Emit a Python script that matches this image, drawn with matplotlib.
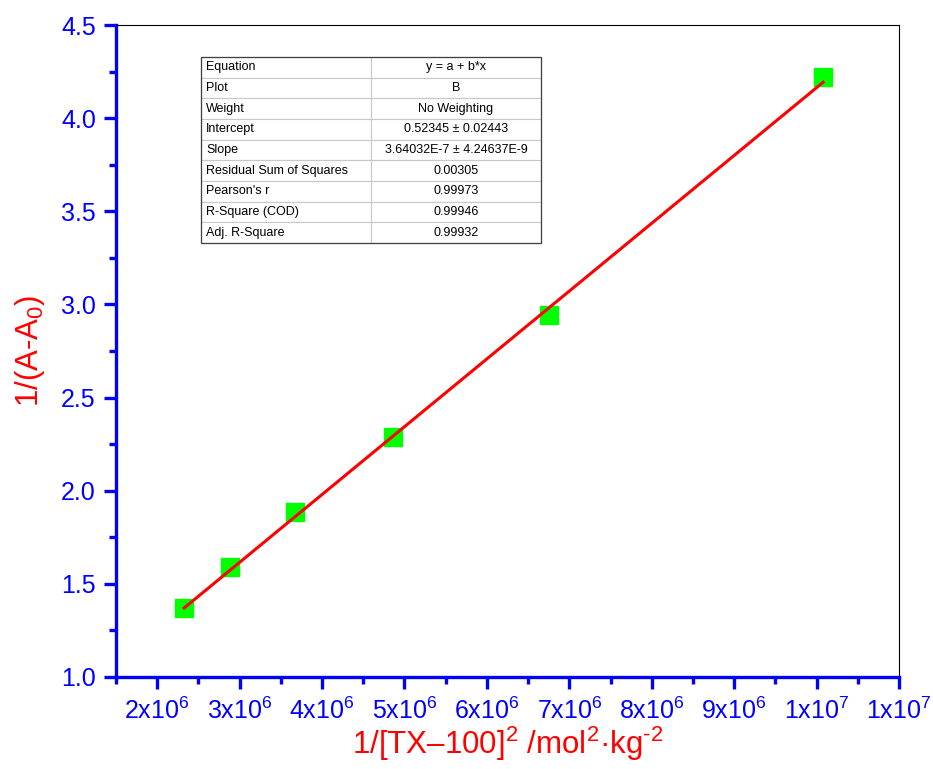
import matplotlib
matplotlib.use("Agg")
import matplotlib.pyplot as plt
import numpy as np
from matplotlib.ticker import FuncFormatter, MultipleLocator

plt.rcParams["font.family"] = ["Liberation Sans", "DejaVu Sans"]
plt.rcParams["mathtext.fontset"] = "custom"
plt.rcParams["mathtext.rm"] = "Liberation Sans"
plt.rcParams["mathtext.it"] = "Liberation Sans:italic"

# data
x_vals = [2.327e6, 2.885e6, 3.673e6, 4.86e6, 6.75e6, 10.08e6]
y_vals = [1.369, 1.592, 1.886, 2.290, 2.943, 4.219]

intercept = 0.52345
slope     = 3.64032e-7

table_rows = [
    ["Equation", "y = a + b*x"],
    ["Plot", "B"],
    ["Weight", "No Weighting"],
    ["Intercept", "0.52345 \u00b1 0.02443"],
    ["Slope", "3.64032E-7 \u00b1 4.24637E-9"],
    ["Residual Sum of Squares", "0.00305"],
    ["Pearson's r", "0.99973"],
    ["R-Square (COD)", "0.99946"],
    ["Adj. R-Square", "0.99932"],
]

blue = "#0000ff"
red  = "#ff0000"

fig = plt.figure(figsize=(9.33, 7.69), dpi=100)
ax  = fig.add_axes([116 / 933, 1 - 677 / 769, 783 / 933, 652 / 769])

xs = np.array(x_vals)
xl = np.array([xs.min(), xs.max()])
ax.plot(xl, intercept + slope * xl, color=red, lw=2.2, zorder=2)
ax.plot(x_vals, y_vals, "s", color="#00ff00", markersize=12.5, mec="#00ff00", zorder=1)

ax.set_xlim(1.5e6, 1.1e7)
ax.set_ylim(1.0, 4.5)
ax.xaxis.set_major_locator(MultipleLocator(1e6))
ax.xaxis.set_minor_locator(MultipleLocator(5e5))
ax.yaxis.set_major_locator(MultipleLocator(0.5))
ax.yaxis.set_minor_locator(MultipleLocator(0.25))


def sci_fmt(v, pos):
    if v <= 0:
        return ""
    e = int(np.floor(np.log10(v) + 1e-9))
    m = int(round(v / 10 ** e))
    return r"%dx10$^{%d}$" % (m, e)


ax.xaxis.set_major_formatter(FuncFormatter(sci_fmt))
ax.yaxis.set_major_formatter(FuncFormatter(lambda v, p: f"{v:.1f}"))

for side in ["left", "bottom"]:
    ax.spines[side].set_color(blue)
    ax.spines[side].set_linewidth(2.4)
for side in ["top", "right"]:
    ax.spines[side].set_color("black")
    ax.spines[side].set_linewidth(0.8)

ax.tick_params(which="major", direction="out", length=8.5, width=2.4, color=blue,
               labelcolor=blue, labelsize=18, pad=6)
ax.tick_params(which="minor", direction="out", length=5, width=2.4, color=blue)

ax.set_xlabel("1/[TX\u2013100]$^2$ /mol$^2$\u00b7kg$^{\\text{-}2}$", color=red, fontsize=22.5, labelpad=1)
ax.set_ylabel("1/(A-A$_0$)", color=red, fontsize=22.5, labelpad=10)

tbl = ax.table(cellText=table_rows, cellLoc="center", colWidths=[0.5, 0.5],
               bbox=[(201 - 116) / 783, (677 - 243) / 652, 340 / 783, 186 / 652])
tbl.auto_set_font_size(False)
tbl.set_fontsize(9)
for (r, c), cell in tbl.get_celld().items():
    cell.set_edgecolor("#c8c8c8")
    cell.set_linewidth(0.8)
    if c == 0:
        cell.set_text_props(ha="left")
        cell.PAD = 0.03
# outer frame
ax.add_patch(plt.Rectangle(((201 - 116) / 783, (677 - 243) / 652), 340 / 783, 186 / 652,
                           transform=ax.transAxes, fill=False, ec="#404040", lw=0.9, zorder=5))

fig.savefig("out.png", dpi=100)
